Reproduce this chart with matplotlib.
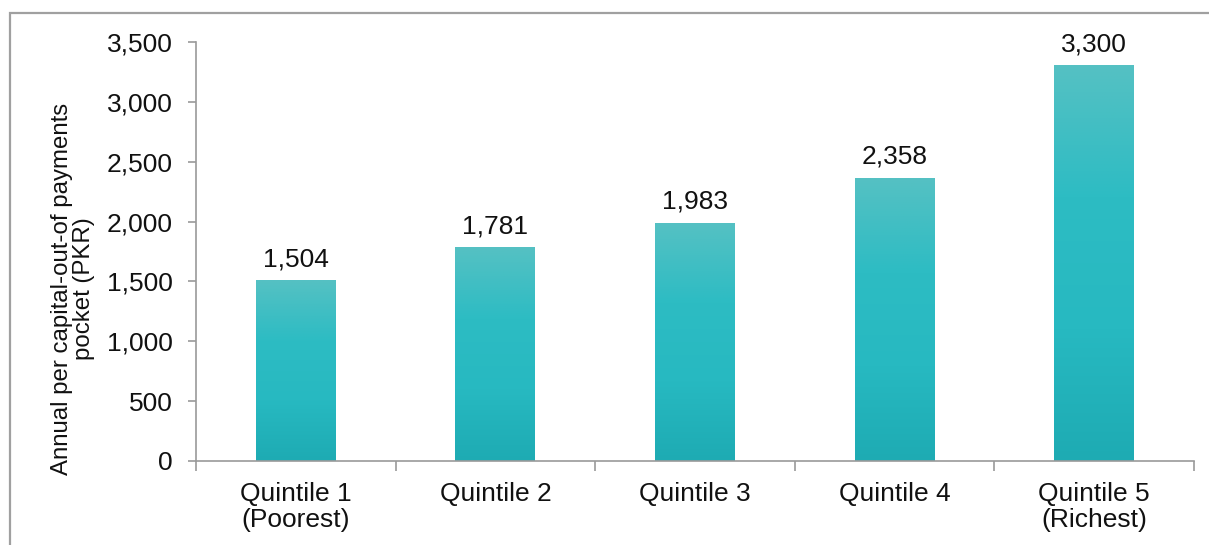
import matplotlib
matplotlib.use("Agg")
import matplotlib.pyplot as plt
from matplotlib.colors import LinearSegmentedColormap
from matplotlib.patches import Rectangle
import numpy as np

plt.rcParams['font.family'] = ['Liberation Sans', 'DejaVu Sans']

categories = ["Quintile 1\n(Poorest)", "Quintile 2", "Quintile 3", "Quintile 4", "Quintile 5\n(Richest)"]
values = [1504, 1781, 1983, 2358, 3300]
value_labels = ["1,504", "1,781", "1,983", "2,358", "3,300"]
yticks = [0, 500, 1000, 1500, 2000, 2500, 3000, 3500]
ytick_labels = ["0", "500", "1,000", "1,500", "2,000", "2,500", "3,000", "3,500"]
ylabel = "Annual per capital-out-of payments\npocket (PKR)"

W, H = 1209, 545
FS = 19
fig = plt.figure(figsize=(W / 100, H / 100), dpi=100)
fig.patch.set_facecolor("white")

# outer frame (top and left edges visible, the rest runs off the canvas)
fig.add_artist(Rectangle((9.5 / W, -0.05), 1.2, 1 - 12.5 / H + 0.05,
                         transform=fig.transFigure, fill=False,
                         edgecolor="#a0a0a0", linewidth=1.6))

ax = fig.add_axes([196 / W, 1 - 461 / H, (1194 - 196) / W, (461 - 42) / H])
x = np.arange(len(values))
bars = ax.bar(x, values, width=0.4, color="none", zorder=2)

cmap = LinearSegmentedColormap.from_list(
    "teal", ["#1eabb3", "#27b9c1", "#2dbcc3", "#55c1c3"])
grad = np.linspace(0, 1, 256).reshape(-1, 1)
for b in bars:
    x0, w, h = b.get_x(), b.get_width(), b.get_height()
    ax.imshow(grad, cmap=cmap, origin="lower", aspect="auto",
              extent=(x0, x0 + w, 0, h), zorder=2)

for xi, v, lab in zip(x, values, value_labels):
    ax.annotate(lab, (xi, v), xytext=(0, 7), textcoords="offset points",
                ha="center", va="bottom", fontsize=FS, color="#111111")

ax.set_xlim(-0.5, len(values) - 0.5)
ax.set_ylim(0, 3500)
ax.set_yticks(yticks)
ax.set_yticklabels(ytick_labels, fontsize=FS, color="#111111")
ax.set_xticks(x)
ax.set_xticklabels(categories, fontsize=FS, color="#111111", linespacing=1.1)
ax.tick_params(axis="x", length=0, pad=15)
ax.set_xticks(np.arange(len(values) + 1) - 0.5, minor=True)
ax.tick_params(axis="x", which="minor", length=7, width=1.2, color="#9a9a9a")
ax.tick_params(axis="y", length=6, width=1.2, color="#9a9a9a", pad=11)

for s in ["top", "right"]:
    ax.spines[s].set_visible(False)
for s in ["left", "bottom"]:
    ax.spines[s].set_color("#9a9a9a")
    ax.spines[s].set_linewidth(1.2)

fig.text(73 / W, 1 - 289 / H, ylabel, rotation=90, ha="center", va="center",
         multialignment="center", fontsize=17.3, color="#111111", linespacing=1.0)

fig.savefig("out.png", dpi=100, facecolor="white")
